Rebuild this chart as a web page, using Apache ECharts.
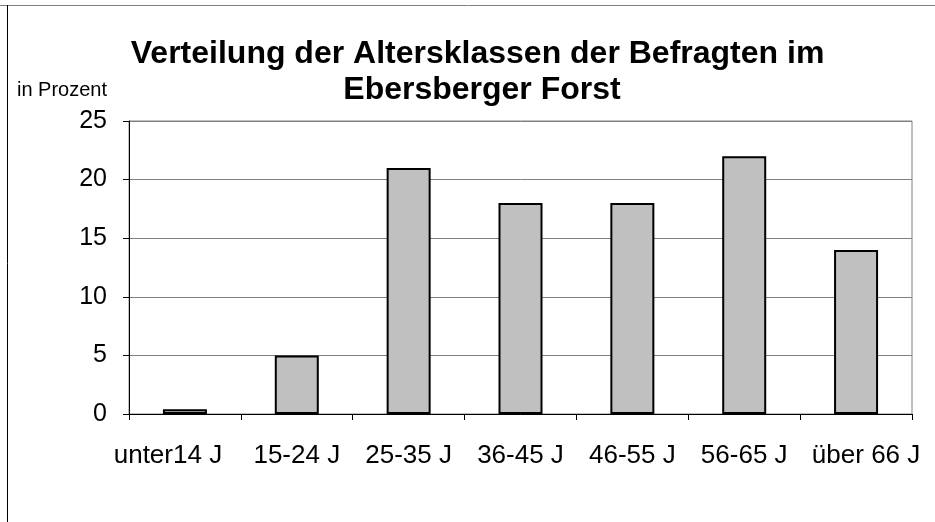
<!DOCTYPE html>
<html>
<head>
<meta charset="utf-8">
<script src="https://cdn.jsdelivr.net/npm/echarts@6/dist/echarts.min.js"></script>
<style>
  html, body { margin: 0; padding: 0; background: #fff; }
  #chart { width: 935px; height: 522px; }
</style>
</head>
<body>
<div id="chart"></div>
<script>
// Altersklassen
const categories = ["unter14 J", "15-24 J", "25-35 J", "36-45 J", "46-55 J", "56-65 J", "über 66 J"];
// Anteil in Prozent
const values = [0.4, 5, 21, 18, 18, 22, 14];

let myChart = echarts.init(document.getElementById("chart"));

const labelFont = { fontFamily: "Liberation Sans", fontSize: 26, color: "#000" };

let option = {
  backgroundColor: "#fff",
  animation: false,
  title: {
    text: "Verteilung der Altersklassen der Befragten im \nEbersberger Forst",
    left: 477,
    top: 31,
    textAlign: "center",
    textStyle: {
      fontFamily: "Liberation Sans",
      fontWeight: "bold",
      fontSize: 32,
      lineHeight: 36,
      color: "#000",
    },
  },
  graphic: [
    {
      type: "line",
      shape: { x1: 0, y1: 5.5, x2: 935, y2: 5.5 },
      style: { stroke: "#808080", lineWidth: 1 },
    },
    {
      type: "line",
      shape: { x1: 7.5, y1: 5, x2: 7.5, y2: 522 },
      style: { stroke: "#000", lineWidth: 1 },
    },
    {
      type: "text",
      style: {
        x: 17,
        y: 90,
        text: "in Prozent",
        verticalAlign: "middle",
        font: "20px 'Liberation Sans'",
        fill: "#000",
      },
    },
  ],
  grid: {
    left: 129,
    right: 23,
    top: 121,
    bottom: 108,
    show: true,
    borderColor: "#808080",
    borderWidth: 1,
    containLabel: false,
  },
  xAxis: {
    type: "category",
    data: categories,
    axisLine: { show: true, lineStyle: { color: "#000", width: 1 } },
    axisTick: { show: true, length: 6, lineStyle: { color: "#000" } },
    axisLabel: {
      margin: 29,
      ...labelFont,
      interval: 0,
      // erstes und letztes Label wie im Original etwas nach außen gerückt
      formatter: function (v, i) {
        if (i === 0) return "{first|" + v + "}";
        if (i === categories.length - 1) return "{last|" + v + "}";
        return v;
      },
      rich: {
        first: { ...labelFont, padding: [0, 34, 0, 0] },
        last: { ...labelFont, padding: [0, 0, 0, 20] },
      },
    },
  },
  yAxis: {
    type: "value",
    min: 0,
    max: 25,
    interval: 5,
    axisLine: { show: true, lineStyle: { color: "#000", width: 1 } },
    axisTick: { show: true, length: 6, lineStyle: { color: "#000" } },
    axisLabel: {
      margin: 22,
      fontFamily: "Liberation Sans",
      fontSize: 25,
      color: "#000",
    },
    splitLine: { show: true, lineStyle: { color: "#808080", width: 1 } },
  },
  series: [
    {
      name: "Anteil",
      type: "bar",
      data: values,
      barWidth: 44,
      itemStyle: {
        color: "#c0c0c0",
        borderColor: "#000",
        borderWidth: 2,
      },
    },
  ],
};

myChart.setOption(option);
</script>
</body>
</html>
